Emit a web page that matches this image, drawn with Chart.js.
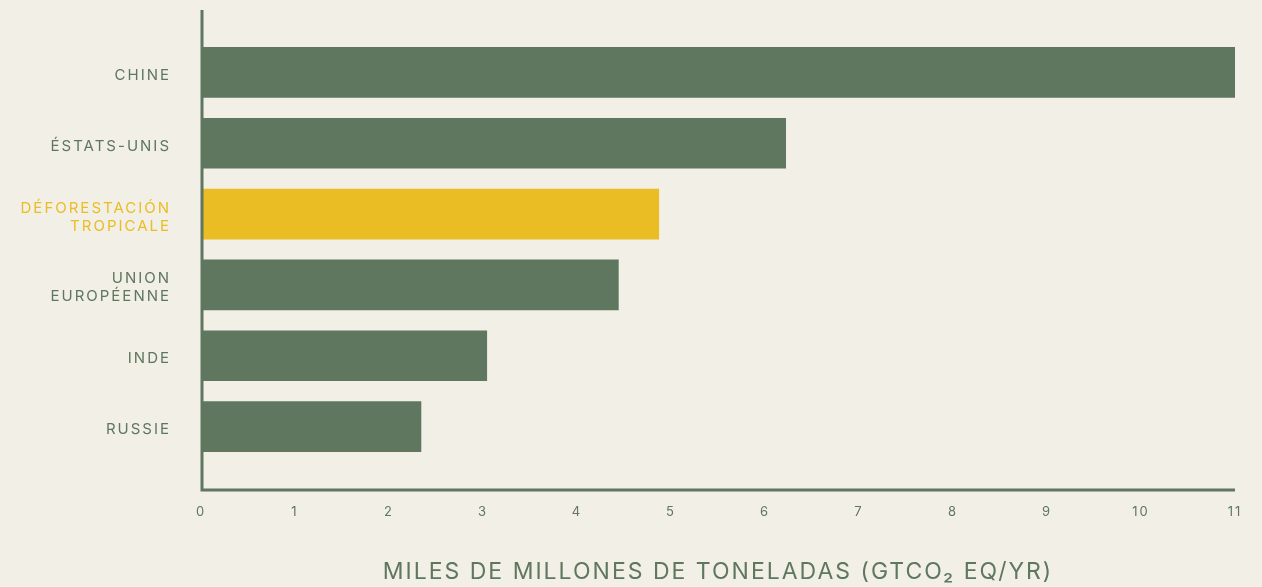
<!DOCTYPE html>
<html>
<head>
<meta charset="utf-8">
<script src="https://cdn.jsdelivr.net/npm/chart.js@4"></script>
<style>
  html, body { margin: 0; padding: 0; background: #f2efe7; }
  #wrap { width: 1262px; height: 587px; }
</style>
</head>
<body>
<div id="wrap"><canvas id="emisiones"></canvas></div>
<script>
const categories = [
  ['CHINE'],
  ['ÉSTATS-UNIS'],
  ['DÉFORESTACIÓN', 'TROPICALE'],
  ['UNION', 'EUROPÉENNE'],
  ['INDE'],
  ['RUSSIE']
];

const emisiones = [11.0, 6.22, 4.87, 4.44, 3.04, 2.34];

const xTicks = [0, 1, 2, 3, 4, 5, 6, 7, 8, 9, 10, 11];

const verde = '#5e775e';
const amarillo = '#ebbd24';
const destacado = 2; // deforestación en amarillo

// letter spacing para todo el texto del canvas
const espaciado = {
  id: 'espaciado',
  beforeInit(chart) { chart.ctx.letterSpacing = '2px'; },
  beforeDraw(chart) { chart.ctx.letterSpacing = '2px'; }
};

// ejes dibujados a mano, más largos que el área de datos
const ejes = {
  id: 'ejes',
  afterDatasetsDraw(chart) {
    const { ctx, chartArea } = chart;
    ctx.save();
    ctx.strokeStyle = verde;
    ctx.lineWidth = 3;
    ctx.beginPath();
    ctx.moveTo(chartArea.left + 1, 10);
    ctx.lineTo(chartArea.left + 1, chartArea.bottom + 28);
    ctx.lineTo(chartArea.right, chartArea.bottom + 28);
    ctx.stroke();
    ctx.restore();
  }
};

const config = {
  type: 'bar',
  data: {
    labels: categories,
    datasets: [{
      data: emisiones,
      backgroundColor: emisiones.map((v, i) => i === destacado ? amarillo : verde),
      barThickness: 50
    }]
  },
  options: {
    indexAxis: 'y',
    responsive: true,
    maintainAspectRatio: false,
    animation: false,
    layout: { padding: { top: 37, right: 27, left: 0, bottom: 0 } },
    plugins: {
      legend: { display: false },
      tooltip: { enabled: false }
    },
    scales: {
      x: {
        min: 0,
        max: 11,
        afterFit(scale) {
          scale.height = 125;
          scale.paddingLeft = 0;
          scale.paddingRight = 0;
        },
        afterBuildTicks(scale) { scale.ticks = xTicks.map(v => ({ value: v })); },
        grid: { display: false, drawTicks: false },
        border: { display: false },
        ticks: {
          color: verde,
          padding: 42,
          font: { family: 'Inter', size: 13 }
        },
        title: {
          display: true,
          text: 'MILES DE MILLONES DE TONELADAS (GTCO₂ EQ/YR)',
          color: verde,
          padding: 0,
          font: { family: 'Inter', size: 23, lineHeight: '29px' }
        }
      },
      y: {
        afterFit(scale) {
          scale.width = 201;
          scale.paddingTop = 0;
          scale.paddingBottom = 0;
        },
        grid: { display: false, drawTicks: false },
        border: { display: false },
        ticks: {
          padding: 30,
          labelOffset: 3,
          color: (ctx) => ctx.index === destacado ? amarillo : verde,
          font: { family: 'Inter', size: 15, lineHeight: 1.2 }
        }
      }
    }
  },
  plugins: [espaciado, ejes]
};

const grafico = new Chart(document.getElementById('emisiones'), config);
</script>
</body>
</html>
